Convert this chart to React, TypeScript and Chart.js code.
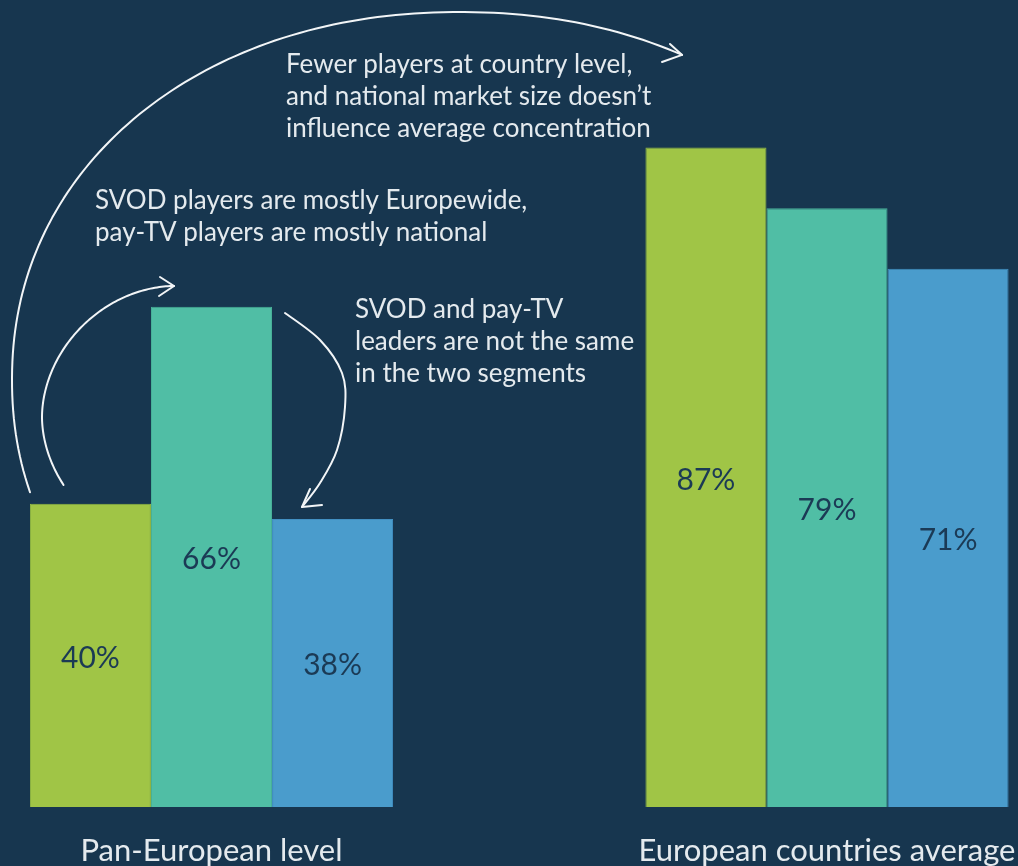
import React, { useEffect, useRef } from "react";
import { Chart, registerables } from "chart.js";

Chart.register(...registerables);

// ---- data ----
const categories = ["Pan-European level", "European countries average"];
const seriesNames = ["Series 1", "Series 2", "Series 3"];
const series1 = [40, 87];
const series2 = [66, 79];
const series3 = [38, 71];

// ---- styles ----
const BG = "#17364f";
const FONT = "Lato, 'Noto Sans', sans-serif";
const TEXT = "#e4eaee";
const LABEL = "#1b3a55";
const fills = ["#a0c546", "#50bea5", "#4a9ccc"];
const borders = ["#92b842", "#47b098", "#4290c2"];

const notes = [
  { lines: ["Fewer players at country level,", "and national market size doesn’t", "influence average concentration"], x: 286, y: 73 },
  { lines: ["SVOD players are mostly Europewide,", "pay-TV players are mostly national"], x: 95, y: 209 },
  { lines: ["SVOD and pay-TV", "leaders are not the same", "in the two segments"], x: 355, y: 318 },
];

// arcs described as super-ellipse segments (annotation decoration)
const arcs = [
  { cx: 460, cy: 380, rx: 448, ry: 368, n: 2.1, t0: 163.3, t1: 298.6, head: [[670, 44], [662, 62]] },
  { cx: 174, cy: 417, rx: 132, ry: 131, n: 1.9, t0: 147.6, t1: 270, head: [[160, 277], [159, 296]] },
];
const curves = [
  {
    pts: [[285, 313], [320, 340], [342, 373], [345, 407], [337, 450], [320, 483], [302, 507]],
    head: [[310, 489], [322, 505]],
  },
];

function drawCurve(ctx: CanvasRenderingContext2D, pts: number[][]) {
  ctx.beginPath();
  ctx.moveTo(pts[0][0], pts[0][1]);
  for (let i = 0; i < pts.length - 1; i++) {
    const p0 = pts[i - 1] || pts[i];
    const p1 = pts[i];
    const p2 = pts[i + 1];
    const p3 = pts[i + 2] || p2;
    ctx.bezierCurveTo(
      p1[0] + (p2[0] - p0[0]) / 6,
      p1[1] + (p2[1] - p0[1]) / 6,
      p2[0] - (p3[0] - p1[0]) / 6,
      p2[1] - (p3[1] - p1[1]) / 6,
      p2[0],
      p2[1]
    );
  }
  ctx.stroke();
}

function superPt(a: any, tDeg: number) {
  const t = (tDeg * Math.PI) / 180;
  const c = Math.cos(t);
  const s = Math.sin(t);
  const e = 2 / a.n;
  return [a.cx + a.rx * Math.sign(c) * Math.pow(Math.abs(c), e), a.cy + a.ry * Math.sign(s) * Math.pow(Math.abs(s), e)];
}

function drawHead(ctx: CanvasRenderingContext2D, tip: number[], head: number[][]) {
  ctx.beginPath();
  ctx.moveTo(head[0][0], head[0][1]);
  ctx.lineTo(tip[0], tip[1]);
  ctx.lineTo(head[1][0], head[1][1]);
  ctx.stroke();
}

const overlayPlugin = {
  id: "overlay",
  afterDatasetsDraw(chart: any) {
    const ctx: CanvasRenderingContext2D = chart.ctx;
    ctx.save();
    // value labels
    ctx.font = `30px ${FONT}`;
    ctx.fillStyle = LABEL;
    ctx.textAlign = "center";
    ctx.textBaseline = "alphabetic";
    chart.data.datasets.forEach((ds: any, i: number) => {
      const meta = chart.getDatasetMeta(i);
      meta.data.forEach((el: any, j: number) => {
        const mid = (el.y + el.base) / 2;
        ctx.fillText(`${ds.data[j]}%`, el.x, mid + 12.5);
      });
    });
    // category labels
    ctx.font = `31px ${FONT}`;
    ctx.fillStyle = TEXT;
    const xs = chart.scales.x;
    chart.data.labels.forEach((lab: string, i: number) => {
      ctx.fillText(lab, xs.getPixelForValue(i), 861);
    });
    // notes
    ctx.font = `26px ${FONT}`;
    ctx.textAlign = "left";
    notes.forEach((n) => {
      n.lines.forEach((line, k) => ctx.fillText(line, n.x, n.y + k * 32));
    });
    // arrows
    ctx.strokeStyle = "#f2f5f7";
    ctx.lineWidth = 2;
    ctx.lineCap = "round";
    ctx.lineJoin = "round";
    arcs.forEach((a) => {
      ctx.beginPath();
      let p = superPt(a, a.t0);
      ctx.moveTo(p[0], p[1]);
      const steps = 120;
      for (let k = 1; k <= steps; k++) {
        p = superPt(a, a.t0 + ((a.t1 - a.t0) * k) / steps);
        ctx.lineTo(p[0], p[1]);
      }
      ctx.stroke();
      drawHead(ctx, p, a.head);
    });
    curves.forEach((c) => {
      drawCurve(ctx, c.pts);
      drawHead(ctx, c.pts[c.pts.length - 1], c.head);
    });
    ctx.restore();
  },
};

export default function App() {
  const ref = useRef<HTMLCanvasElement | null>(null);
  useEffect(() => {
    if (!ref.current) return;
    const values = [series1, series2, series3];
    const chart = new Chart(ref.current, {
      type: "bar",
      data: {
        labels: categories,
        datasets: values.map((v, i) => ({
          label: seriesNames[i],
          data: v,
          backgroundColor: fills[i],
          borderColor: borders[i],
          borderWidth: 1,
          barPercentage: 1,
          categoryPercentage: 0.59,
          clip: false as any,
        })),
      },
      options: {
        responsive: false,
        animation: false,
        layout: { padding: { left: 211.5, right: 191, top: 49, bottom: 59 } },
        plugins: { legend: { display: false }, tooltip: { enabled: false } },
        scales: {
          x: {
            display: false,
            offset: false,
          },
          y: {
            display: false,
            min: 0,
            max: 100,
          },
        },
      },
      plugins: [overlayPlugin],
    });
    return () => chart.destroy();
  }, []);
  return (
    <div style={{ position: "fixed", left: 0, top: 0, width: 1018, height: 866, background: BG }}>
      <canvas ref={ref} width={1018} height={866} style={{ display: "block" }} />
    </div>
  );
}
